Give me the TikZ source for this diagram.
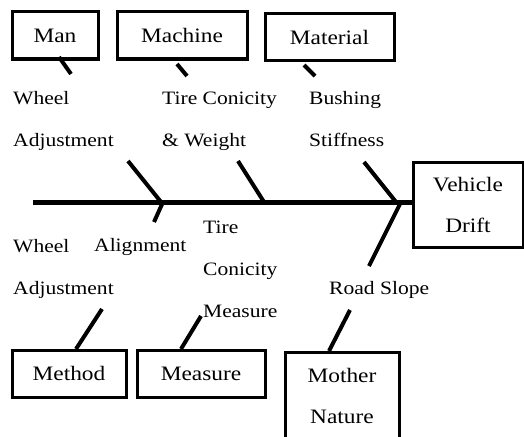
\documentclass[tikz,border=0pt]{standalone}
\usepackage{fontspec}
\setmainfont{Liberation Serif}[FakeStretch=1.14]
\tikzset{
	cause/.style  = {draw, line width=3pt, rectangle, minimum height=47pt,
		font=\fontsize{20.5}{41}\selectfont},
	effect/.style = {draw, line width=3pt, rectangle, align=center,
		minimum width=110pt, minimum height=85pt, font=\fontsize{20.5}{41}\selectfont},
	factor/.style = {anchor=base west, inner sep=0pt, align=left,
		font=\fontsize{18.9}{42}\selectfont},
	joint/.style  = {coordinate}, % bone end
	bone/.style   = {line width=4pt},
	spine/.style  = {line width=5.5pt}
}

\begin{document}
\begin{tikzpicture}[x=1pt, y=-1pt]
	\clip (0,0) rectangle (524,436);
	\draw
	node at (55,35.5)[cause, minimum width=86pt] (c1) {Man}
	node at (182,35.5)[cause, minimum width=130pt] (c2) {Machine}
	node at (329.5,37)[cause, minimum width=129pt] (c3) {Material}
	node at (69,373.5)[cause, minimum width=114pt] (c4) {Method}
	node at (201,373.5)[cause, minimum width=128pt] (c5) {Measure}
	node at (342,396)[effect, minimum width=114pt, minimum height=88pt] (c6) {Mother\\Nature}
	node at (468,204.5)[effect] (e1) {Vehicle\\Drift};
	
	% labels, placed by the baseline of their last line
	\draw
	node at (13,146.5)[factor] (f1) {Wheel\\Adjustment}
	node at (162,146.5)[factor] (f2) {Tire Conicity\\\& Weight}
	node at (309,146.5)[factor] (f3) {Bushing\\Stiffness}
	node at (13,294)[factor] (f4) {Wheel\\Adjustment}
	node at (94,251)[factor] (f5) {Alignment}
	node at (203,317)[factor] (f6) {Tire\\Conicity\\Measure}
	node at (329,294)[factor] (f7) {Road Slope};
	
	\draw
	node at (33,202.5)[joint] (s0) {}
	node at (59,57)[joint] (u1) {} node at (71,74)[joint] (u2) {}
	node at (128,161)[joint] (u3) {} node at (161,202)[joint] (u4) {}
	node at (177,64)[joint] (v1) {} node at (187,76)[joint] (v2) {}
	node at (238,161)[joint] (v3) {} node at (264,202)[joint] (v4) {}
	node at (304,65)[joint] (w1) {} node at (315,76)[joint] (w2) {}
	node at (364,162)[joint] (w3) {} node at (396,202)[joint] (w4) {}
	node at (163,202)[joint] (l1) {} node at (154,222)[joint] (l2) {}
	node at (102,309)[joint] (l3) {} node at (76,349)[joint] (l4) {}
	node at (201,316)[joint] (m1) {} node at (181,349)[joint] (m2) {}
	node at (401,202)[joint] (n1) {} node at (369,266)[joint] (n2) {}
	node at (350,310)[joint] (n3) {} node at (329,351)[joint] (n4) {};
	
	\draw[spine](s0) -- (e1.west |- s0);
	\draw[bone](u1) -- (u2);
	\draw[bone](u3) -- (u4);
	\draw[bone](v1) -- (v2);
	\draw[bone](v3) -- (v4);
	\draw[bone](w1) -- (w2);
	\draw[bone](w3) -- (w4);
	\draw[bone](l1) -- (l2);
	\draw[bone](l3) -- (l4);
	\draw[bone](m1) -- (m2);
	\draw[bone](n1) -- (n2);
	\draw[bone](n3) -- (n4);
\end{tikzpicture}
\end{document}
